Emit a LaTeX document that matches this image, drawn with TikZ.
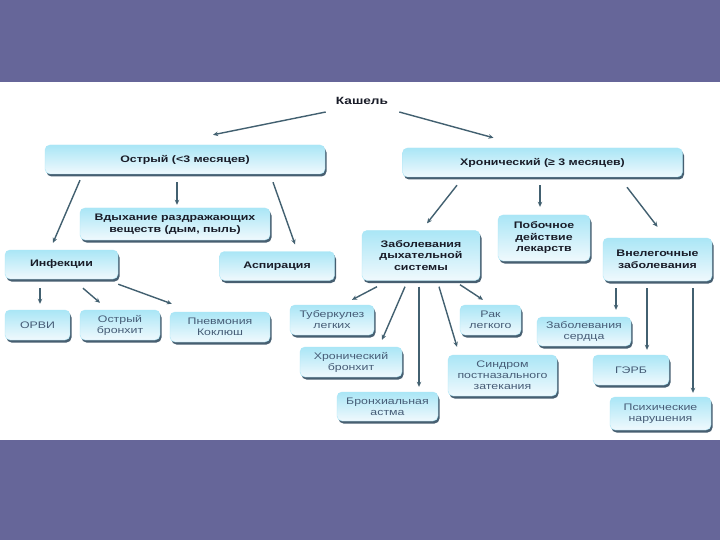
\documentclass[tikz,border=0pt]{standalone}
\usepackage{fontspec}
\setmainfont[FakeStretch=1.3]{Liberation Sans}
\usetikzlibrary{arrows.meta,shadows}
\definecolor{bgpurple}{RGB}{102,102,153}
\definecolor{boxtop}{RGB}{170,230,246}
\definecolor{boxmid}{RGB}{118,214,240}
\definecolor{boxbot}{RGB}{240,249,253}
\definecolor{shadowc}{RGB}{52,78,98}
\definecolor{arrowc}{RGB}{66,96,112}
\definecolor{txtdark}{RGB}{25,28,40}
\definecolor{txtgray}{RGB}{70,92,118}
\tikzset{
  box/.style={rounded corners=5pt, top color=boxtop, middle color=boxmid, bottom color=boxbot,
    draw=boxtop, line width=0.4pt,
    drop shadow={shadow xshift=1.5pt, shadow yshift=-2.5pt, fill=shadowc, opacity=0.9},
    align=center, inner sep=1pt, font=\fontsize{9.5}{11.5}\selectfont\bfseries, text=txtdark},
  leaf/.style={box, font=\fontsize{9.5}{11}\selectfont, text=txtgray},
  conn/.style={draw=arrowc, line width=1.4pt, -{Stealth[length=5pt,width=4.5pt]}}
}
\begin{document}
\begin{tikzpicture}[x=1pt,y=-1pt]
\useasboundingbox (0,0) rectangle (720,540);
\fill[bgpurple] (0,0) rectangle (720,540);
\fill[white] (0,82) rectangle (720,440);
% root
\node[font=\fontsize{10.5}{12}\selectfont\bfseries, text=txtdark, inner sep=1pt] (kash) at (362,101) {Кашель};
% level 1
\node[box, minimum width=280pt, minimum height=29pt] (ost) at (185,159.5) {Острый (<3 месяцев)};
\node[box, minimum width=280pt, minimum height=29pt] (chr) at (542.5,162.5) {Хронический (≥ 3 месяцев)};
% level 2
\node[box, minimum width=190pt, minimum height=32pt] (vdy) at (175,224) {Вдыхание раздражающих\\веществ (дым, пыль)};
\node[box, minimum width=113pt, minimum height=29pt] (inf) at (61.5,264.5) {Инфекции};
\node[box, minimum width=115pt, minimum height=29pt] (asp) at (277,266) {Аспирация};
\node[box, minimum width=118pt, minimum height=50pt] (zds) at (421,255.5) {Заболевания\\дыхательной\\системы};
\node[box, minimum width=92pt, minimum height=46pt] (pob) at (544,238) {Побочное\\действие\\лекарств};
\node[box, minimum width=109pt, minimum height=43pt] (vne) at (657.5,259.5) {Внелегочные\\заболевания};
% leaves
\node[leaf, minimum width=65pt, minimum height=30pt] (orvi) at (37.5,325) {ОРВИ};
\node[leaf, minimum width=80pt, minimum height=30pt] (obr) at (120,325) {Острый\\бронхит};
\node[leaf, minimum width=100pt, minimum height=30pt] (pnev) at (220,327) {Пневмония\\Коклюш};
\node[leaf, minimum width=84pt, minimum height=30pt] (tub) at (332,320) {Туберкулез\\легких};
\node[leaf, minimum width=102pt, minimum height=30pt] (hbr) at (351,362) {Хронический\\бронхит};
\node[leaf, minimum width=101pt, minimum height=29pt] (bas) at (387.5,406.5) {Бронхиальная\\астма};
\node[leaf, minimum width=61pt, minimum height=30pt] (rak) at (490.5,320) {Рак\\легкого};
\node[leaf, minimum width=109pt, minimum height=41pt] (snd) at (502.5,375.5) {Синдром\\постназального\\затекания};
\node[leaf, minimum width=94pt, minimum height=29pt] (zse) at (584,331.5) {Заболевания\\сердца};
\node[leaf, minimum width=76pt, minimum height=30pt] (gerb) at (631,370) {ГЭРБ};
\node[leaf, minimum width=101pt, minimum height=33pt] (psi) at (660.5,413.5) {Психические\\нарушения};
% connectors
\draw[conn] ([xshift=-9pt,yshift=-11pt]kash.west) -- ([xshift=28pt,yshift=10pt]ost.north);
\draw[conn] ([xshift=10pt,yshift=-11pt]kash.east) -- ([xshift=-49pt,yshift=10pt]chr.north);
\draw[conn] ([xshift=-105pt,yshift=-6pt]ost.south) -- ([xshift=-8.5pt,yshift=7pt]inf.north);
\draw[conn] ([xshift=-8pt,yshift=-8pt]ost.south) -- ([xshift=2pt,yshift=3pt]vdy.north);
\draw[conn] ([xshift=88pt,yshift=-8pt]ost.south) -- ([xshift=18pt,yshift=7pt]asp.north);
\draw[conn] ([xshift=-85.5pt,yshift=-8pt]chr.south) -- ([xshift=6pt,yshift=7pt]zds.north);
\draw[conn] ([xshift=-2.5pt,yshift=-8pt]chr.south) -- ([xshift=-4pt,yshift=8pt]pob.north);
\draw[conn] ([xshift=84.5pt,yshift=-10pt]chr.south) -- ([xshift=0pt,yshift=11pt]vne.north);
\draw[conn] ([xshift=-21.5pt,yshift=-9pt]inf.south) -- ([xshift=2.5pt,yshift=6pt]orvi.north);
\draw[conn] ([xshift=21.5pt,yshift=-9pt]inf.south) -- ([xshift=-20pt,yshift=7pt]obr.north);
\draw[conn] ([yshift=-5pt]inf.south east) -- ([xshift=2pt,yshift=8pt]pnev.north west);
\draw[conn] ([xshift=-44pt,yshift=-6pt]zds.south) -- ([xshift=20pt,yshift=5pt]tub.north);
\draw[conn] ([xshift=-16pt,yshift=-6pt]zds.south) -- ([xshift=31pt,yshift=7pt]hbr.north);
\draw[conn] ([xshift=-2pt,yshift=-6pt]zds.south) -- ([xshift=31.5pt,yshift=5pt]bas.north);
\draw[conn] ([xshift=18pt,yshift=-6pt]zds.south) -- ([xshift=-45.5pt,yshift=8pt]snd.north);
\draw[conn] ([xshift=39pt,yshift=-4pt]zds.south) -- ([xshift=-7.5pt,yshift=5pt]rak.north);
\draw[conn] ([xshift=-41.5pt,yshift=-7pt]vne.south) -- ([xshift=32pt,yshift=7pt]zse.north);
\draw[conn] ([xshift=-10.5pt,yshift=-7pt]vne.south) -- ([xshift=16pt,yshift=5pt]gerb.north);
\draw[conn] ([xshift=35.5pt,yshift=-7pt]vne.south) -- ([xshift=32.5pt,yshift=4pt]psi.north);
\end{tikzpicture}
\end{document}
